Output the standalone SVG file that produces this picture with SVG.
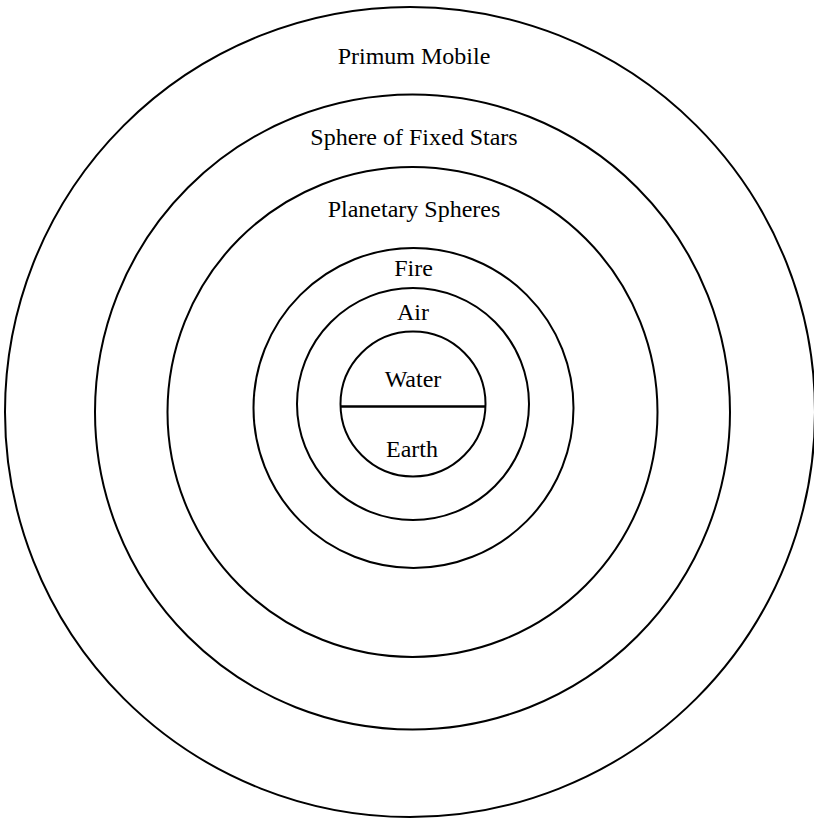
<svg xmlns="http://www.w3.org/2000/svg" width="814" height="821" viewBox="0 0 814 821">
<style>
.ring{fill:none;stroke:#000;stroke-width:2}
.lbl{font-family:"Liberation Serif","Times New Roman",serif;font-size:24px;fill:#000;text-anchor:middle}
</style>
<rect width="814" height="821" fill="#fff"/>
<g id="primum-mobile"><circle class="ring" cx="410" cy="412" r="405"/><text class="lbl" x="414" y="64">Primum Mobile</text></g>
<g id="fixed-stars"><circle class="ring" cx="412.5" cy="412" r="317.5"/><text class="lbl" x="414" y="145">Sphere of Fixed Stars</text></g>
<g id="planetary"><circle class="ring" cx="412.5" cy="412" r="245"/><text class="lbl" x="414" y="217">Planetary Spheres</text></g>
<g id="fire"><circle class="ring" cx="413.5" cy="408" r="160"/><text class="lbl" x="413.5" y="276">Fire</text></g>
<g id="air"><circle class="ring" cx="413" cy="404" r="116"/><text class="lbl" x="413" y="320">Air</text></g>
<g id="water-earth"><circle class="ring" cx="413" cy="404" r="72.5"/><text class="lbl" x="413" y="387">Water</text><text class="lbl" x="412" y="457">Earth</text></g>
<g id="connectors"><line x1="340.5" y1="406.5" x2="485.5" y2="406.5" stroke="#000" stroke-width="2.6"/></g>
</svg>
